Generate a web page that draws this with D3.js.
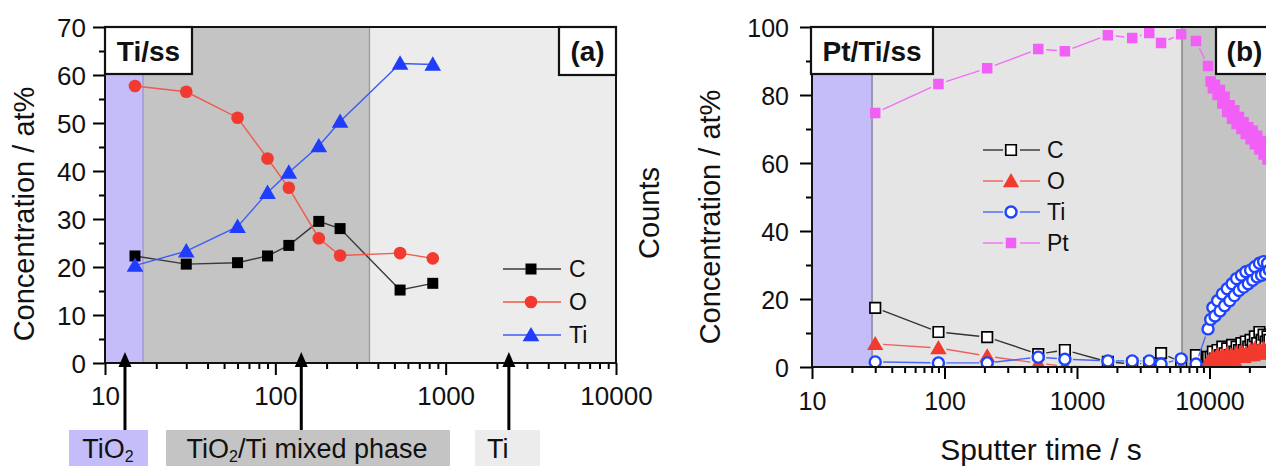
<!DOCTYPE html>
<html>
<head>
<meta charset="utf-8">
<script src="https://cdn.jsdelivr.net/npm/d3@7"></script>
<style>
  html, body { margin: 0; padding: 0; background: #fff; overflow: hidden; }
  svg { display: block; font-family: "Liberation Sans", Arial, Helvetica, sans-serif; }
</style>
</head>
<body>
<svg id="chart" width="1266" height="466"></svg>
<script>
// ---------- Panel (a): Ti/ss depth profile ----------
const timeA     = [15, 30, 60, 90, 120, 180, 240, 540, 840];
const carbonA   = [22.3, 20.6, 20.9, 22.3, 24.5, 29.5, 28.0, 15.2, 16.6];
const oxygenA   = [57.7, 56.5, 51.1, 42.6, 36.5, 26.0, 22.4, 22.9, 21.8];
const titaniumA = [20.3, 23.3, 28.4, 35.5, 39.7, 45.2, 50.3, 62.4, 62.2];

// phase boundaries (s) and arrow positions (s) for panel (a)
const phaseEdgesA  = [10, 16.7, 357, 10000];
const arrowTimesA  = [13.1, 142, 2350];

const yTicksA      = [0, 10, 20, 30, 40, 50, 60, 70];
const yMinorA      = [5, 15, 25, 35, 45, 55, 65];
const xTicksA      = [10, 100, 1000, 10000];

// ---------- Panel (b): Pt/Ti/ss depth profile ----------
const timeB = [30, 90, 210, 510, 810, 1710, 2610, 3510, 4310, 6110, 7910, 9750,
  10200, 10600, 11000, 11500, 12000, 12500, 13000, 13600, 14200, 14800, 15400, 16000,
  16700, 17400, 18100, 18800, 19600, 20400, 21200, 22000, 22900, 23800, 24700, 25600,
  26500, 27400, 28300];
const carbonB = [17.4, 10.3, 8.8, 3.8, 5.0, 1.5, 0.9, 1.1, 4.1, 1.4, 3.5, 3.0,
  3.0, 4.5, 2.5, 5.0, 3.5, 6.0, 4.0, 5.5, 3.5, 6.5, 4.5, 6.0,
  5.0, 7.0, 5.0, 7.5, 6.0, 8.0, 6.5, 9.0, 7.0, 10.3, 8.0, 9.5,
  7.5, 9.0, 8.0];
const oxygenB = [6.8, 5.6, 3.2, 1.1, 0.2, 0, 0, 0, 0, 0, 0.2, 1.5,
  2.0, 3.0, 1.5, 3.5, 2.0, 3.5, 2.5, 4.0, 2.5, 3.5, 2.0, 4.0,
  3.0, 4.5, 3.0, 4.0, 3.5, 5.0, 3.5, 5.5, 4.0, 5.0, 4.0, 5.5,
  4.0, 5.0, 4.5];
const titaniumB = [1.5, 1.2, 1.2, 2.9, 2.3, 1.8, 1.8, 1.8, 0.9, 2.4, 0.9, 11.2,
  14.0, 17.5, 15.0, 19.5, 16.5, 21.5, 18.0, 23.0, 19.5, 24.5, 21.0, 26.0,
  22.5, 27.0, 23.5, 28.0, 24.5, 28.5, 25.5, 29.5, 26.5, 30.5, 27.0, 31.0,
  27.5, 30.5, 28.5];
const platinumB = [74.7, 83.2, 87.9, 93.5, 92.9, 97.6, 96.8, 98.2, 95.3, 97.9, 95.9, 88.5,
  84.0, 82.0, 83.0, 80.0, 81.5, 77.5, 79.5, 75.0, 77.0, 73.0, 75.5, 71.5,
  73.5, 70.0, 72.0, 68.5, 70.5, 67.0, 69.5, 65.5, 68.0, 64.0, 66.5, 62.5,
  64.5, 61.0, 63.0];

const phaseEdgesB = [10, 28.4, 6200, 30000];
const yTicksB     = [0, 20, 40, 60, 80, 100];
const yMinorB     = [10, 30, 50, 70, 90];
const xTicksB     = [10, 100, 1000, 10000];

const svg = d3.select("#chart");

// decade minor ticks (2..9 x 10^k) inside a log domain
function logMinors(domain) {
  const out = [];
  for (let p = 1; p <= 4; p++) {
    for (let m = 2; m <= 9; m++) {
      const v = m * Math.pow(10, p);
      if (v > domain[0] && v < domain[1]) out.push(v);
    }
  }
  return out;
}

function styleAxis(g, fontSize) {
  g.select(".domain").remove();
  g.selectAll(".tick line").attr("stroke", "#000").attr("stroke-width", 2);
  g.selectAll(".tick text").attr("fill", "#111").attr("font-size", fontSize)
    .attr("font-family", "\"Liberation Sans\", Arial, sans-serif");
}

function drawFrame(g, x, y, opt) {
  const [x0, x1] = x.range();
  const [y0, y1] = y.range();
  // minor ticks
  const yMin = g.append("g").attr("transform", `translate(${x0},0)`)
    .call(d3.axisLeft(y).tickValues(opt.yMinor).tickSize(6).tickFormat(""));
  styleAxis(yMin, 0);
  const xMin = g.append("g").attr("transform", `translate(0,${y0})`)
    .call(d3.axisBottom(x).tickValues(logMinors(x.domain())).tickSize(6).tickFormat(""));
  styleAxis(xMin, 0);
  // major ticks with labels
  const yMaj = g.append("g").attr("transform", `translate(${x0},0)`)
    .call(d3.axisLeft(y).tickValues(opt.yTicks).tickSize(12).tickPadding(opt.yPad).tickFormat(d3.format("d")));
  styleAxis(yMaj, opt.fs);
  yMaj.selectAll(".tick text").attr("dy", "0.36em");
  const xMaj = g.append("g").attr("transform", `translate(0,${y0})`)
    .call(d3.axisBottom(x).tickValues(opt.xTicks).tickSize(12).tickPadding(opt.xPad).tickFormat(d3.format("d")));
  styleAxis(xMaj, opt.fs);
  // box
  g.append("rect").attr("x", x0).attr("y", y1).attr("width", x1 - x0).attr("height", y0 - y1)
    .attr("fill", "none").attr("stroke", "#111").attr("stroke-width", 2);
}

function drawBands(g, x, y, edges, fills, sepColor) {
  const [y0, y1] = y.range();
  for (let i = 0; i < edges.length - 1; i++) {
    g.append("rect")
      .attr("x", x(edges[i])).attr("y", y1)
      .attr("width", x(edges[i + 1]) - x(edges[i])).attr("height", y0 - y1)
      .attr("fill", fills[i]);
  }
  for (let i = 1; i < edges.length - 1; i++) {
    g.append("line").attr("x1", x(edges[i])).attr("x2", x(edges[i]))
      .attr("y1", y1).attr("y2", y0).attr("stroke", sepColor[i - 1]).attr("stroke-width", 1.3);
  }
}

function labelBox(g, x0, x1, y0, y1, text) {
  g.append("rect").attr("x", x0).attr("y", y0).attr("width", x1 - x0).attr("height", y1 - y0)
    .attr("fill", "#fff").attr("stroke", "#111").attr("stroke-width", 2.2);
  g.append("text").attr("x", (x0 + x1) / 2).attr("y", y0 + (y1 - y0) / 2 + 10)
    .attr("text-anchor", "middle").attr("font-weight", "bold").attr("font-size", 28)
    .attr("fill", "#111").text(text);
}

// marker shapes
const symSquare = (s) => d3.symbol().type(d3.symbolSquare).size(s * s);
const symTri = (s) => d3.symbol().type(d3.symbolTriangle).size(s);
const symCircle = (s) => d3.symbol().type(d3.symbolCircle).size(s);

// ====================== PANEL (a) ======================
const xA = d3.scaleLog().domain([10, 10000]).range([105, 616]);
const yA = d3.scaleLinear().domain([0, 70]).range([363, 27]);
const gA = svg.append("g");

drawBands(gA, xA, yA, phaseEdgesA, ["#c4bdfa", "#c4c4c4", "#ececec"], ["#9a94d0", "#9a9a9a"]);

const seriesA = [
  { name: "C",  v: carbonA,   line: "#3a3a3a", sym: symSquare(11), fill: "#000" },
  { name: "O",  v: oxygenA,   line: "#f05a4a", sym: symCircle(125), fill: "#f23a30" },
  { name: "Ti", v: titaniumA, line: "#3d5cf5", sym: symTri(120), fill: "#1f3cff" }
];

seriesA.forEach(s => {
  const pts = timeA.map((t, i) => [xA(t), yA(s.v[i])]);
  gA.append("path").attr("d", d3.line()(pts)).attr("fill", "none")
    .attr("stroke", s.line).attr("stroke-width", 1.4);
  gA.selectAll(null).data(pts).enter().append("path")
    .attr("transform", d => `translate(${d[0]},${d[1] + (s.name === "Ti" ? 1.5 : 0)})`)
    .attr("d", s.sym).attr("fill", s.fill);
});

drawFrame(gA, xA, yA, { yTicks: yTicksA, yMinor: yMinorA, xTicks: xTicksA, fs: 26, yPad: 7, xPad: 12 });

labelBox(gA, 105, 192, 27, 74, "Ti/ss");
labelBox(gA, 559, 616, 27, 75, "(a)");

// legend (a)
seriesA.forEach((s, i) => {
  const ly = 269 + i * 33;
  gA.append("line").attr("x1", 503).attr("x2", 561).attr("y1", ly).attr("y2", ly)
    .attr("stroke", s.line).attr("stroke-width", 1.4);
  gA.append("path").attr("transform", `translate(531,${ly + (s.name === "Ti" ? 1.5 : 0)})`)
    .attr("d", s.sym).attr("fill", s.fill);
  gA.append("text").attr("x", 569).attr("y", ly + 8).attr("font-size", 23).attr("fill", "#111").text(s.name);
});

// axis title (a)
svg.append("text").attr("transform", "translate(34,214) rotate(-90)")
  .attr("text-anchor", "middle").attr("font-size", 29).attr("fill", "#111")
  .text("Concentration / at%");

// phase arrows and labels under panel (a)
arrowTimesA.forEach(t => {
  const ax = xA(t);
  gA.append("line").attr("x1", ax).attr("x2", ax).attr("y1", 432).attr("y2", 362)
    .attr("stroke", "#000").attr("stroke-width", 3);
  gA.append("path").attr("d", `M${ax},352 L${ax - 6.5},367 L${ax + 6.5},367 Z`).attr("fill", "#000");
});

const phaseBoxes = [
  { x0: 69, x1: 148, fill: "#c4bdfa" },
  { x0: 166, x1: 450, fill: "#c4c4c4" },
  { x0: 475, x1: 540, fill: "#ececec" }
];
phaseBoxes.forEach(b => {
  gA.append("rect").attr("x", b.x0).attr("y", 430).attr("width", b.x1 - b.x0).attr("height", 40).attr("fill", b.fill);
});
function oxideText(sel) {
  sel.append("tspan").text("TiO");
  sel.append("tspan").attr("font-size", 16).attr("dy", 4).text("2");
}
const tA1 = gA.append("text").attr("x", 108).attr("y", 458).attr("text-anchor", "middle")
  .attr("font-size", 27).attr("fill", "#111");
oxideText(tA1);
const tA2 = gA.append("text").attr("x", 307).attr("y", 458).attr("text-anchor", "middle")
  .attr("font-size", 27).attr("fill", "#111");
oxideText(tA2);
tA2.append("tspan").attr("dy", -4).text("/Ti mixed phase");
gA.append("text").attr("x", 487).attr("y", 458).attr("font-size", 27).attr("fill", "#111").text("Ti");

// ====================== PANEL (b) ======================
const xB = d3.scaleLog().domain([10, 30000]).range([812, 812 + 132.5 * Math.log10(3000)]);
const yB = d3.scaleLinear().domain([0, 100]).range([367, 27]);
const gB = svg.append("g");

drawBands(gB, xB, yB, phaseEdgesB, ["#c4bdfa", "#e5e5e5", "#c4c4c4"], ["#7a7a9a", "#7a7a7a"]);

// symbols are clipped to the plot area
svg.append("defs").append("clipPath").attr("id", "clipB").append("rect")
  .attr("x", xB.range()[0]).attr("y", yB.range()[1])
  .attr("width", xB.range()[1] - xB.range()[0]).attr("height", yB.range()[0] - yB.range()[1]);
const gBData = gB.append("g").attr("clip-path", "url(#clipB)");

const seriesB = [
  { name: "C",  v: carbonB,   line: "#333", sym: symSquare(10.5), fill: "#fff", stroke: "#000", sw: 1.7, dy: 0 },
  { name: "O",  v: oxygenB,   line: "#f06060", sym: symTri(115), fill: "#f23a2e", stroke: "none", sw: 0, dy: 1.5 },
  { name: "Ti", v: titaniumB, line: "#4a66f5", sym: symCircle(95), fill: "#fff", stroke: "#1f44ff", sw: 2.4, dy: 0 },
  { name: "Pt", v: platinumB, line: "#f070f5", sym: symSquare(10.5), fill: "#f25ff7", stroke: "none", sw: 0, dy: 0 }
];

// segments stop short of the symbols
function gappedSegments(pts, gap) {
  const segs = [];
  for (let i = 0; i < pts.length - 1; i++) {
    const [xa, ya] = pts[i], [xb, yb] = pts[i + 1];
    const d = Math.hypot(xb - xa, yb - ya);
    if (d > 2 * gap + 1) {
      const ux = (xb - xa) / d, uy = (yb - ya) / d;
      segs.push([[xa + ux * gap, ya + uy * gap], [xb - ux * gap, yb - uy * gap]]);
    }
  }
  return segs;
}

seriesB.forEach(s => {
  const pts = timeB.map((t, i) => [xB(t), yB(s.v[i])]);
  gBData.selectAll(null).data(gappedSegments(pts, 8)).enter().append("path")
    .attr("d", d => d3.line()(d)).attr("fill", "none")
    .attr("stroke", s.line).attr("stroke-width", 1.4);
  gBData.selectAll(null).data(pts).enter().append("path")
    .attr("transform", d => `translate(${d[0]},${d[1] + s.dy})`)
    .attr("d", s.sym).attr("fill", s.fill).attr("stroke", s.stroke).attr("stroke-width", s.sw);
});

drawFrame(gB, xB, yB, { yTicks: yTicksB, yMinor: yMinorB, xTicks: xTicksB, fs: 25, yPad: 11, xPad: 13 });

labelBox(gB, 811, 933, 27, 74, "Pt/Ti/ss");
labelBox(gB, 1216, 1273, 27, 74, "(b)");

// legend (b)
seriesB.forEach((s, i) => {
  const ly = 150 + i * 31;
  gB.append("line").attr("x1", 983).attr("x2", 1003).attr("y1", ly).attr("y2", ly)
    .attr("stroke", s.line).attr("stroke-width", 1.4);
  gB.append("line").attr("x1", 1020).attr("x2", 1040).attr("y1", ly).attr("y2", ly)
    .attr("stroke", s.line).attr("stroke-width", 1.4);
  gB.append("path").attr("transform", `translate(1011,${ly + s.dy})`)
    .attr("d", s.sym).attr("fill", s.fill).attr("stroke", s.stroke).attr("stroke-width", s.sw);
  gB.append("text").attr("x", 1047).attr("y", ly + 8).attr("font-size", 23).attr("fill", "#111").text(s.name);
});

// axis titles (b)
svg.append("text").attr("transform", "translate(720,217) rotate(-90)")
  .attr("text-anchor", "middle").attr("font-size", 29).attr("fill", "#111")
  .text("Concentration / at%");
svg.append("text").attr("transform", "translate(659,213) rotate(-90)")
  .attr("text-anchor", "middle").attr("font-size", 29).attr("fill", "#111")
  .text("Counts");
svg.append("text").attr("x", 1041).attr("y", 460)
  .attr("text-anchor", "middle").attr("font-size", 30).attr("fill", "#111")
  .text("Sputter time / s");
</script>
</body>
</html>
